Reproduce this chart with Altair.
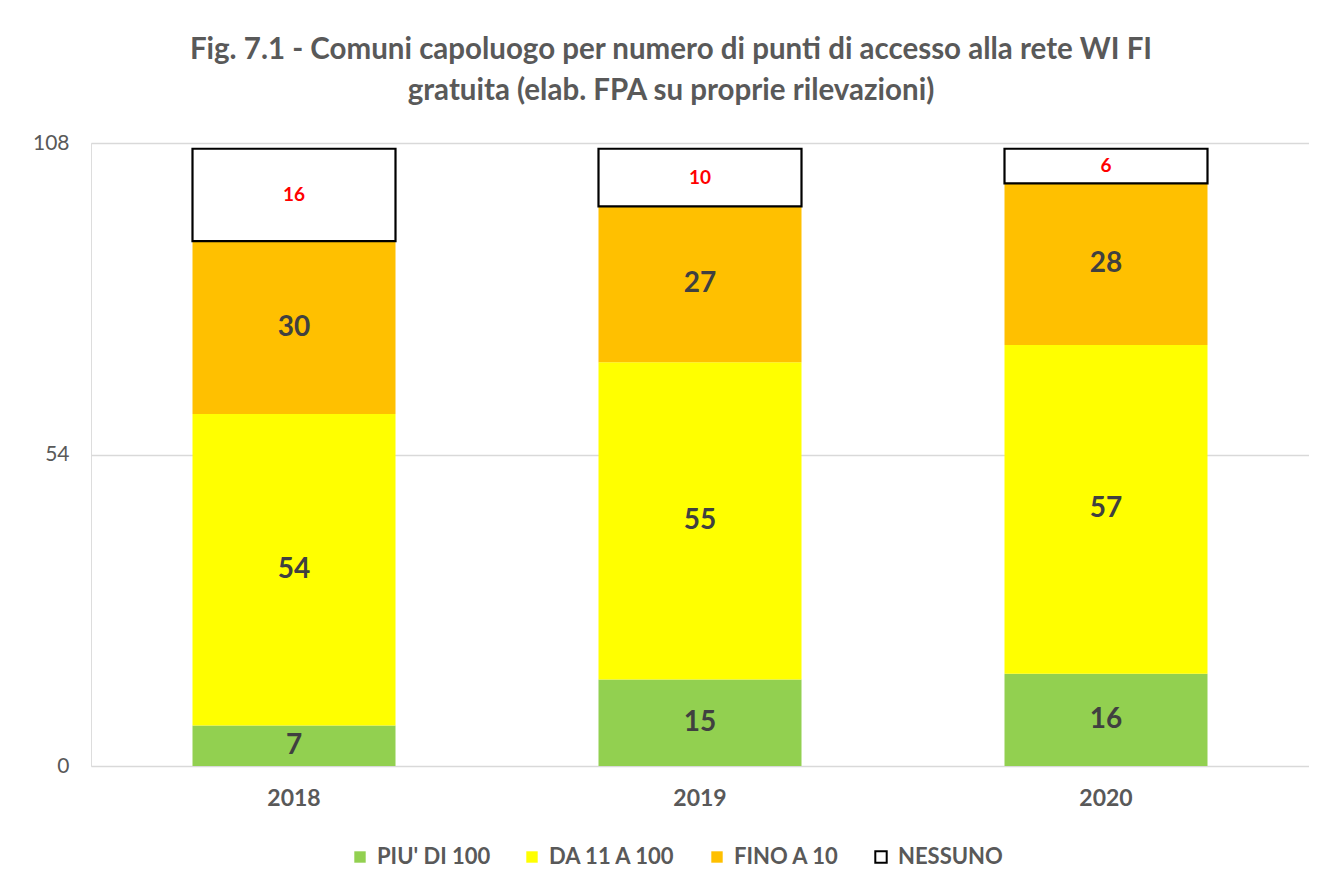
import altair as alt
import pandas as pd

years = ["2018", "2019", "2020"]
categories = ["PIU' DI 100", "DA 11 A 100", "FINO A 10", "NESSUNO"]
piu_di_100 = [7, 15, 16]
da_11_a_100 = [54, 55, 57]
fino_a_10 = [30, 27, 28]
nessuno = [16, 10, 6]
colors = ["#92D050", "#FFFF00", "#FFC000", "#FFFFFF"]
strokes = ["transparent", "transparent", "transparent", "#000000"]
y_ticks = [0, 54, 108]

series = [piu_di_100, da_11_a_100, fino_a_10, nessuno]
rows = []
for ci, (cat, vals) in enumerate(zip(categories, series)):
    for y, v in zip(years, vals):
        rows.append({"anno": y, "categoria": cat, "valore": v, "ordine": ci})
df = pd.DataFrame(rows)

FONT = "Lato"
GRAY = "#595959"

legend = alt.Legend(title=None, orient="none", direction="horizontal",
                    legendX=258, legendY=703,
                    symbolType="square", symbolSize=130, symbolStrokeWidth=2,
                    labelFont=FONT, labelFontWeight="bold",
                    labelFontSize=22, labelColor=GRAY,
                    columnPadding=30, labelOffset=6)

base = alt.Chart(df)

bars = base.mark_bar(strokeWidth=2.2).encode(
    x=alt.X("anno:N", sort=years, title=None,
            scale=alt.Scale(paddingInner=0.5, paddingOuter=0.25),
            axis=alt.Axis(labelAngle=0, labelFont=FONT, labelFontWeight="bold",
                          labelFontSize=23, labelColor=GRAY, ticks=False,
                          domain=False, labelPadding=21)),
    y=alt.Y("valore:Q", stack="zero", title=None,
            scale=alt.Scale(domain=[0, 108], nice=False),
            axis=alt.Axis(values=y_ticks, labelFont=FONT, labelFontSize=21,
                          labelColor=GRAY, ticks=False, domain=False,
                          labelPadding=22, gridColor="#D9D9D9", gridWidth=1.5)),
    color=alt.Color("categoria:N", sort=categories,
                    scale=alt.Scale(domain=categories, range=colors),
                    legend=legend),
    stroke=alt.Stroke("categoria:N", sort=categories,
                      scale=alt.Scale(domain=categories, range=strokes),
                      legend=legend),
    order=alt.Order("ordine:Q"),
)

labels = base.transform_stack(
    stack="valore", groupby=["anno"], as_=["v0", "v1"],
    sort=[alt.SortField("ordine", order="ascending")]
).transform_calculate(
    mid="(datum.v0 + datum.v1) / 2"
)

main_labels = labels.transform_filter(alt.datum.categoria != "NESSUNO").mark_text(
    font=FONT, fontWeight="bold", fontSize=28, color="#404040", baseline="middle"
).encode(
    x=alt.X("anno:N", sort=years),
    y=alt.Y("mid:Q"),
    text=alt.Text("valore:Q"),
)

red_labels = labels.transform_filter(alt.datum.categoria == "NESSUNO").mark_text(
    font=FONT, fontWeight="bold", fontSize=19, color="#FF0000", baseline="middle"
).encode(
    x=alt.X("anno:N", sort=years),
    y=alt.Y("mid:Q"),
    text=alt.Text("valore:Q"),
)

chart = alt.layer(bars, main_labels, red_labels).properties(
    width=1218, height=623,
    title=alt.TitleParams(
        ["Fig. 7.1 - Comuni capoluogo per numero di punti di accesso alla rete WI FI",
         "gratuita (elab. FPA su proprie rilevazioni)"],
        font=FONT, fontSize=29.5, fontWeight="bold", color=GRAY,
        anchor="middle", offset=26, lineHeight=41, dx=-29),
    autosize=alt.AutoSizeParams(type="none"),
    padding={"left": 83, "top": 135, "right": 0, "bottom": 115},
).configure_view(stroke=None).configure(background="white")

chart.save("out.html", embed_options={"renderer": "svg", "actions": False})
